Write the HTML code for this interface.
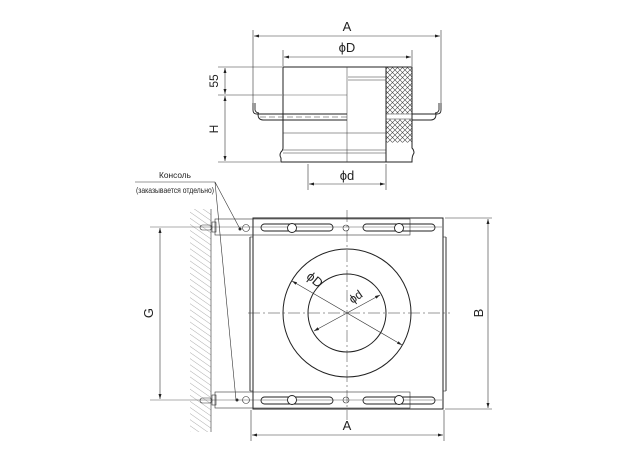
<!DOCTYPE html>
<html><head><meta charset="utf-8"><style>
html,body{margin:0;padding:0;background:#fff;}
svg{display:block;}
text{font-family:"Liberation Sans",sans-serif;fill:#222;}
</style></head><body>
<svg width="624" height="460" viewBox="0 0 624 460" xmlns="http://www.w3.org/2000/svg">
<defs>
<pattern id="xh" width="5" height="5" patternUnits="userSpaceOnUse">
<path d="M0,0L5,5M5,0L0,5" stroke="#444" stroke-width="0.6"/>
</pattern>
<pattern id="wh" width="5" height="5" patternUnits="userSpaceOnUse" patternTransform="rotate(-55)">
<line x1="0" y1="0" x2="0" y2="5" stroke="#777" stroke-width="0.6"/>
</pattern>
<marker id="ar" viewBox="0 0 10 6" refX="10" refY="3" markerWidth="9" markerHeight="5" orient="auto-start-reverse">
<path d="M0,0L10,3L0,6z" fill="#222"/>
</marker>
</defs>
<g stroke="#333" stroke-width="0.6" fill="none">
<line x1="253" y1="30" x2="253" y2="103"/>
<line x1="441" y1="30" x2="441" y2="103"/>
<line x1="254" y1="36" x2="440" y2="36" marker-start="url(#ar)" marker-end="url(#ar)"/>
<line x1="283" y1="50" x2="283" y2="66"/>
<line x1="412" y1="50" x2="412" y2="66"/>
<line x1="284" y1="57" x2="411" y2="57" marker-start="url(#ar)" marker-end="url(#ar)"/>
<line x1="218" y1="67" x2="282" y2="67"/>
<line x1="218" y1="95" x2="282" y2="95"/>
<line x1="218" y1="162" x2="280" y2="162"/>
<line x1="225" y1="68" x2="225" y2="94" marker-start="url(#ar)" marker-end="url(#ar)"/>
<line x1="225" y1="96" x2="225" y2="161" marker-start="url(#ar)" marker-end="url(#ar)"/>
<g stroke="#222" stroke-width="1">
<path d="M283,67 L412,67 L412,148 Q414,150 414,153 Q412,156 412,160 L412,162 L281,162 L281,158 Q279,155 281,152 Q283,150 283,148 Z"/>
<line x1="386" y1="67" x2="386" y2="162"/>
</g>
<rect x="386.5" y="67.5" width="25" height="46" fill="url(#xh)" stroke="none"/>
<rect x="386.5" y="119.5" width="25" height="23" fill="url(#xh)" stroke="none"/>
<line x1="347" y1="67" x2="347" y2="162" stroke-width="0.5"/>
<line x1="348" y1="77" x2="386" y2="77"/>
<line x1="348" y1="80" x2="386" y2="80"/>
<line x1="283" y1="95" x2="347" y2="95" stroke-width="0.4"/>
<line x1="283" y1="133" x2="386" y2="133"/>
<line x1="283" y1="150" x2="386" y2="150"/>
<line x1="283" y1="153" x2="386" y2="153"/>
<line x1="386" y1="114" x2="412" y2="114"/>
<line x1="386" y1="119" x2="412" y2="119"/>
<g stroke="#222" stroke-width="0.9">
<path d="M253,103 L253,110 Q253,114 257,114 L347,114"/>
<path d="M255,103 L255,110 Q256,113 259,113"/>
<path d="M258,114 Q258,120 263,120 L347,120"/>
<path d="M441,103 L441,110 Q441,114 437,114 L412,114"/>
<path d="M439,103 L439,110 Q438,113 435,113"/>
<path d="M436,114 Q436,120 431,120 L412,120"/>
</g>
<line x1="260" y1="117" x2="347" y2="117" stroke-dasharray="6,3"/>
<line x1="308" y1="164" x2="308" y2="190"/>
<line x1="386" y1="164" x2="386" y2="190"/>
<line x1="309" y1="184" x2="385" y2="184" marker-start="url(#ar)" marker-end="url(#ar)"/>

<rect x="190" y="209" width="21" height="223" fill="url(#wh)" stroke="none"/>
<line x1="211" y1="209" x2="211" y2="432"/>
<line x1="135" y1="182" x2="215" y2="182"/>
<line x1="215" y1="182" x2="240" y2="229"/>
<line x1="215" y1="182" x2="236" y2="400"/>
<circle cx="240" cy="229" r="1.2" fill="#222"/>
<circle cx="237" cy="400" r="1.2" fill="#222"/>
<rect x="253" y="218" width="190" height="191" stroke="#222" stroke-width="1"/>
<line x1="250" y1="237" x2="250" y2="391" stroke-width="1"/>
<line x1="250" y1="237" x2="253" y2="237"/>
<line x1="250" y1="391" x2="253" y2="391"/>
<line x1="446" y1="237" x2="446" y2="391" stroke-width="1"/>
<line x1="443" y1="237" x2="446" y2="237"/>
<line x1="443" y1="391" x2="446" y2="391"/>
<g>
<rect x="215" y="219" width="195" height="16"/>
<rect x="215" y="392" width="195" height="16"/>
<line x1="150" y1="227" x2="442" y2="227" stroke-width="0.4"/>
<line x1="150" y1="400" x2="442" y2="400" stroke-width="0.4"/>
<rect x="200" y="225" width="12" height="5" rx="2.5"/>
<rect x="212" y="222" width="4" height="10"/>
<rect x="200" y="398" width="12" height="5" rx="2.5"/>
<rect x="212" y="395" width="4" height="10"/>
<circle cx="246" cy="228" r="3.5"/>
<circle cx="246" cy="400" r="3.5"/>
<circle cx="346" cy="228" r="3"/>
<circle cx="346" cy="400" r="3"/>
<g stroke="#222" stroke-width="0.9">
<rect x="261" y="224" width="72" height="7" rx="3.5"/>
<rect x="363" y="224" width="72" height="7" rx="3.5"/>
<rect x="261" y="397" width="72" height="7" rx="3.5"/>
<rect x="363" y="397" width="72" height="7" rx="3.5"/>
<circle cx="292" cy="228" r="4.5" fill="#fff"/>
<circle cx="399" cy="228" r="4.5" fill="#fff"/>
<circle cx="292" cy="400" r="4.5" fill="#fff"/>
<circle cx="399" cy="400" r="4.5" fill="#fff"/>
</g>
</g>
<circle cx="347" cy="313" r="64" stroke="#222" stroke-width="1"/>
<circle cx="347" cy="313" r="39" stroke="#222" stroke-width="1"/>
<line x1="248" y1="313" x2="450" y2="313" stroke-dasharray="12,3,2,3" stroke-width="0.5"/>
<line x1="347" y1="210" x2="347" y2="420" stroke-dasharray="12,3,2,3" stroke-width="0.5"/>
<line x1="292" y1="281" x2="402" y2="345" marker-start="url(#ar)" marker-end="url(#ar)"/>
<line x1="314" y1="331" x2="380" y2="295" marker-start="url(#ar)" marker-end="url(#ar)"/>
<line x1="445" y1="218" x2="492" y2="218"/>
<line x1="445" y1="409" x2="492" y2="409"/>
<line x1="488" y1="219" x2="488" y2="408" marker-start="url(#ar)" marker-end="url(#ar)"/>
<line x1="160" y1="228" x2="160" y2="399" marker-start="url(#ar)" marker-end="url(#ar)"/>
<line x1="251" y1="410" x2="251" y2="441"/>
<line x1="444" y1="410" x2="444" y2="441"/>
<line x1="252" y1="435" x2="443" y2="435" marker-start="url(#ar)" marker-end="url(#ar)"/>
</g>
<text x="347" y="31" font-size="13" text-anchor="middle">A</text>
<text x="347" y="52" font-size="13" text-anchor="middle">ϕD</text>
<text x="347" y="180" font-size="13" text-anchor="middle">ϕd</text>
<text font-size="12" text-anchor="middle" transform="translate(218,81) rotate(-90)">55</text>
<text font-size="12" text-anchor="middle" transform="translate(218,129) rotate(-90)">H</text>
<text x="175" y="178" font-size="8.5" text-anchor="middle" textLength="32" lengthAdjust="spacingAndGlyphs">Консоль</text>
<text x="175" y="193" font-size="8.5" text-anchor="middle" textLength="78" lengthAdjust="spacingAndGlyphs">(заказывается отдельно)</text>
<text font-size="13" text-anchor="middle" transform="translate(153,313) rotate(-90)">G</text>
<text font-size="13" text-anchor="middle" transform="translate(483,313) rotate(-90)">B</text>
<text x="347" y="430" font-size="13" text-anchor="middle">A</text>
<text font-size="13" text-anchor="middle" transform="translate(312,283) rotate(40)">ϕD</text>
<text font-size="12" text-anchor="middle" transform="translate(358,300) rotate(-35)">ϕd</text>
</svg>
</body></html>
